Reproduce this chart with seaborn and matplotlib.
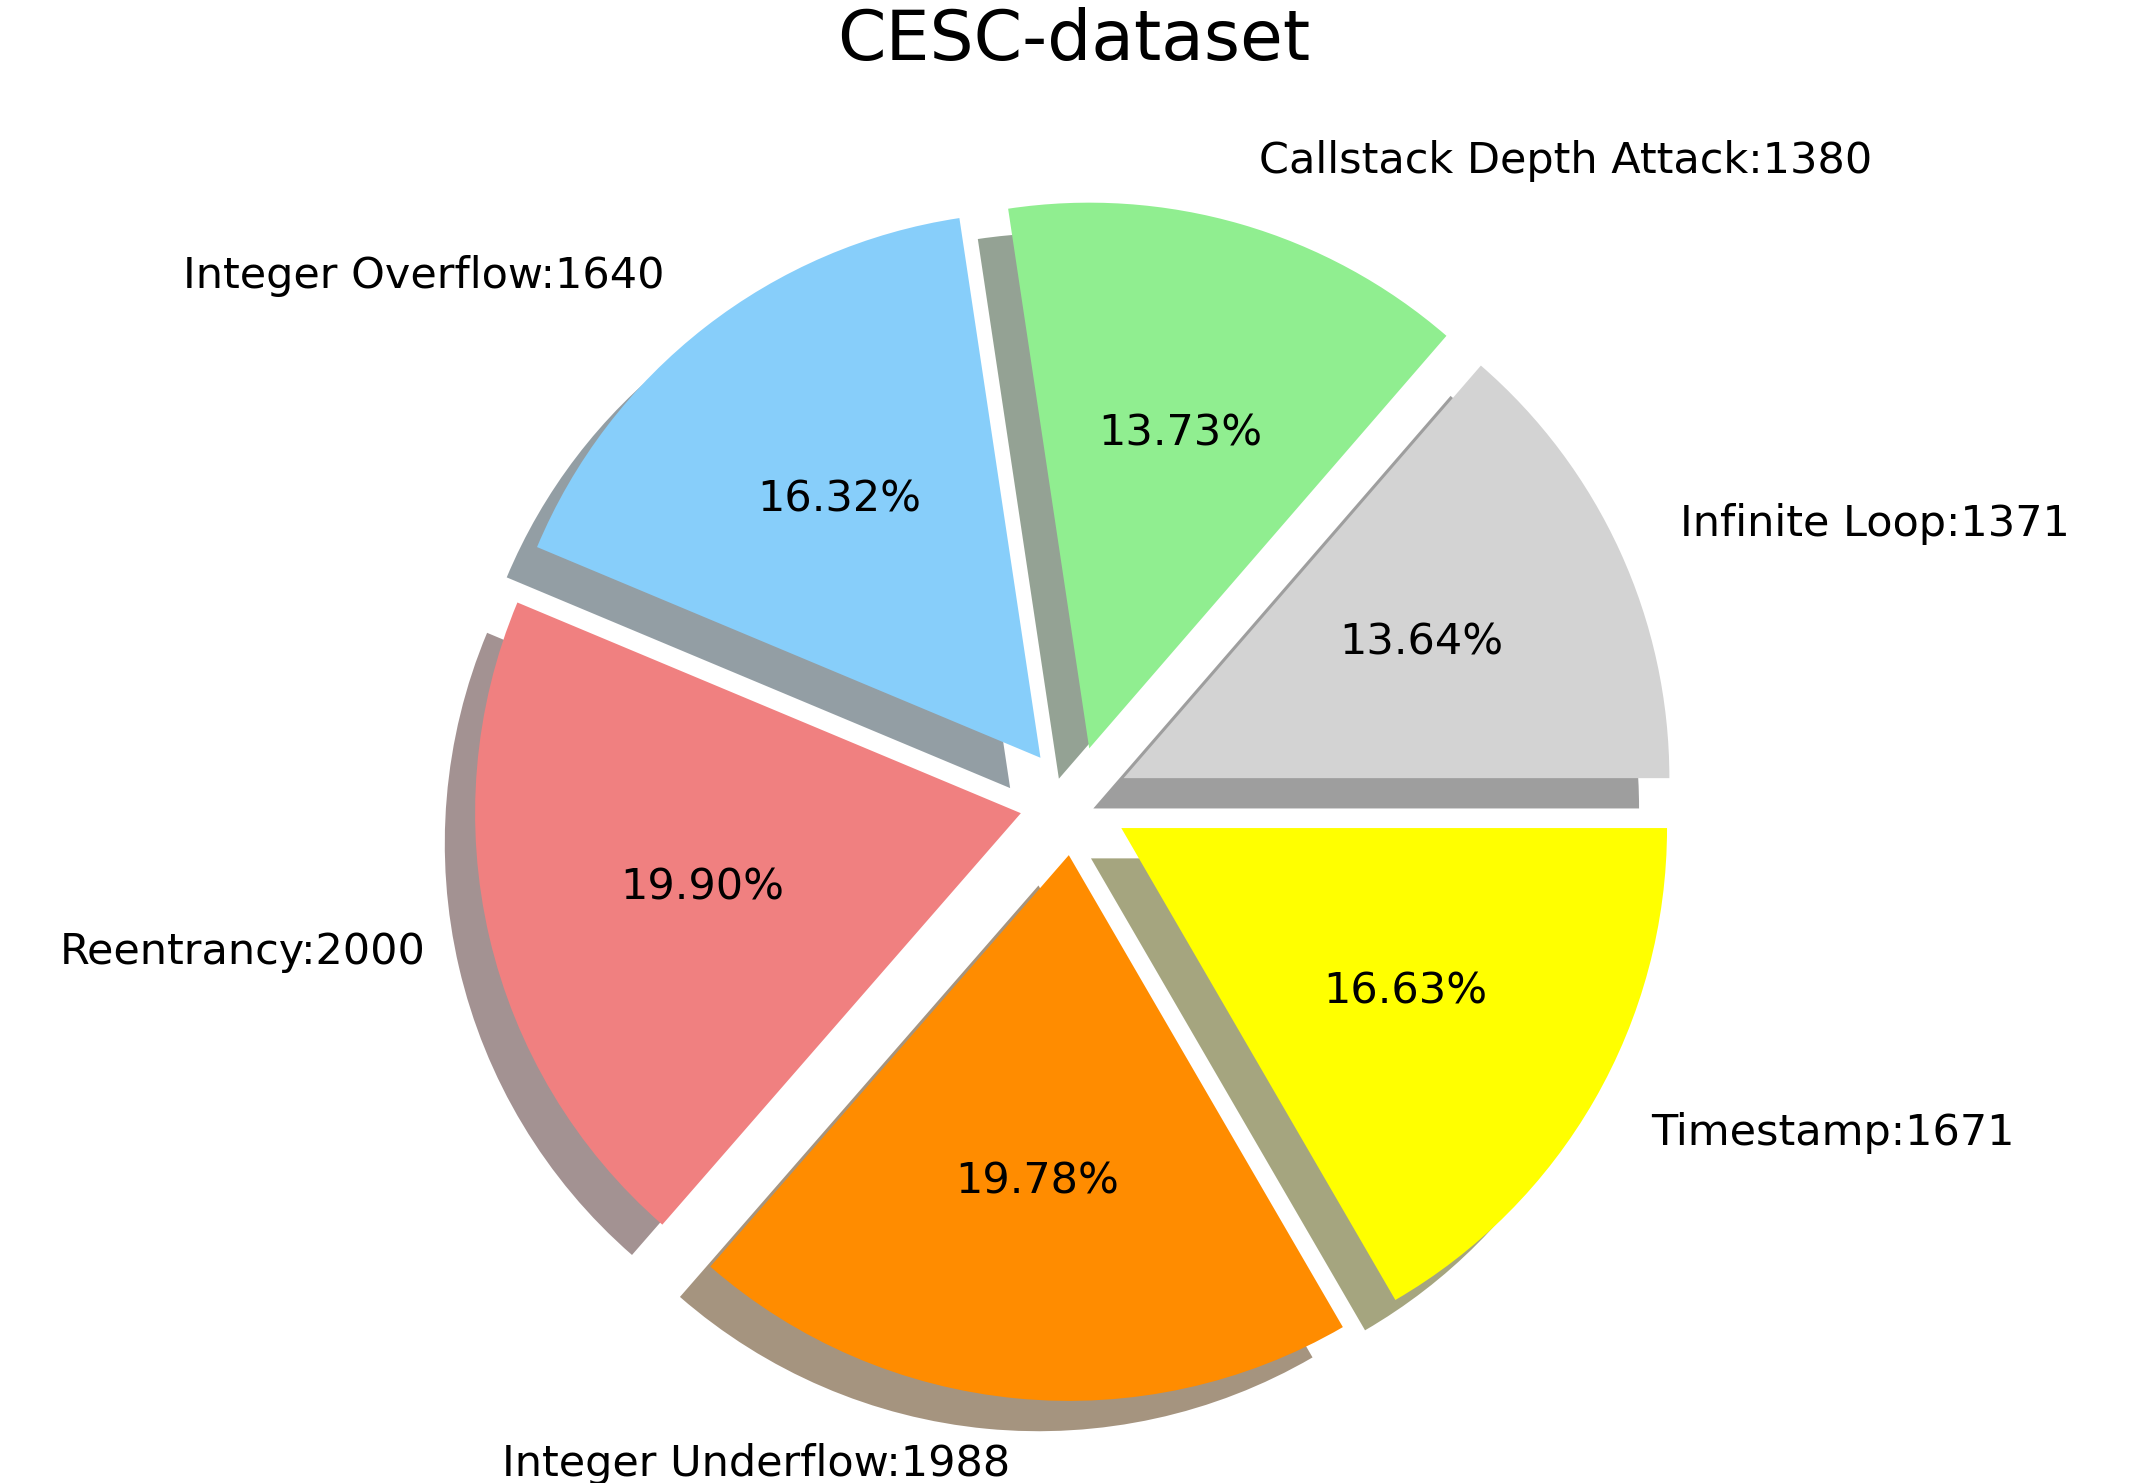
import matplotlib
matplotlib.use("Agg")
import matplotlib.pyplot as plt
import seaborn as sns

sns.set_style('white')
plt.rcParams['font.family'] = ['DejaVu Sans']
plt.rcParams['text.color'] = 'black'

labels = ["Infinite Loop", "Callstack Depth Attack", "Integer Overflow",
          "Reentrancy", "Integer Underflow", "Timestamp"]
counts = [1371, 1380, 1640, 2000, 1988, 1671]
colors = ["lightgray", "lightgreen", "lightskyblue", "lightcoral", "darkorange", "yellow"]

fig = plt.figure(figsize=(10.74, 7.415), dpi=200)
ax = fig.add_axes([0.1, 0.0, 0.8, 0.92])
ax.pie(counts, labels=[f"{l}:{c}" for l, c in zip(labels, counts)],
       colors=colors, autopct='%1.2f%%', startangle=0, shadow=True,
       explode=[0.1] * len(counts), labeldistance=1.12,
       wedgeprops={'linewidth': 0}, textprops={'fontsize': 15.5, 'color': 'black'})
ax.set_aspect('equal')
fig.suptitle("CESC-dataset", fontsize=25, y=0.995, color='black')
fig.savefig("out.png", dpi=200)
